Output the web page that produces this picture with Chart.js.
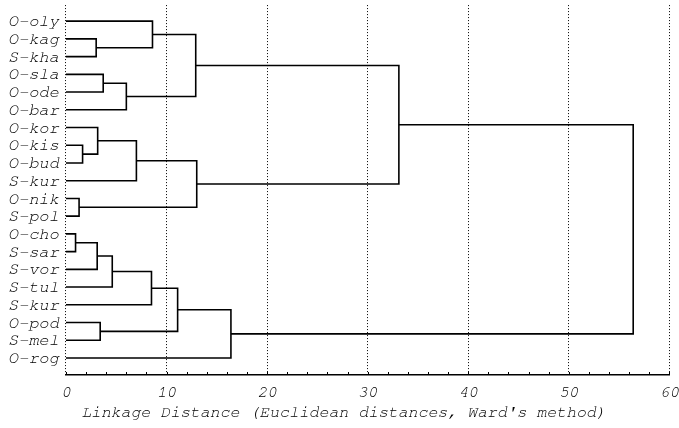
<!DOCTYPE html>
<html>
<head>
<meta charset="utf-8">
<script src="https://cdn.jsdelivr.net/npm/chart.js@4"></script>
<style>
  html, body { margin: 0; padding: 0; background: #fff; }
  #wrap { width: 679px; height: 428px; }
</style>
</head>
<body>
<div id="wrap"><canvas id="chart"></canvas></div>
<script>
// Dendrogram: leaves top to bottom, merges as [left node, right node, linkage distance]
// node ids 0..19 are leaves, 20+ are clusters in the order listed below
const leaves = ['O-oly', 'O-kag', 'S-kha', 'O-sla', 'O-ode', 'O-bar', 'O-kor', 'O-kis', 'O-bud', 'S-kur',
  'O-nik', 'S-pol', 'O-cho', 'S-sar', 'S-vor', 'S-tul', 'S-kur', 'O-pod', 'S-mel', 'O-rog'];
const mergeLeft   = [1, 0, 3, 22, 21, 7, 6, 26, 10, 27, 24, 12, 31, 32, 33, 17, 34, 36, 30];
const mergeRight  = [2, 20, 4, 5, 23, 8, 25, 9, 11, 28, 29, 13, 14, 15, 16, 18, 35, 19, 37];
const mergeHeight = [3.0, 8.6, 3.7, 6.0, 12.9, 1.65, 3.15, 7.0, 1.3, 13.0, 33.1, 0.95, 3.1, 4.6, 8.5, 3.4, 11.1, 16.4, 56.4];
const xTicks = [0, 10, 20, 30, 40, 50, 60];
const axisTitle = "Linkage Distance (Euclidean distances, Ward's method)";

const FONT = "'Nimbus Mono PS', 'FreeMono', 'Liberation Mono', monospace";
const TEXT = '#000';

// node position: leaf = its row, cluster = midpoint of children
const nodeY = leaves.map((_, i) => i);
const nodeH = leaves.map(() => 0);
mergeLeft.forEach((l, k) => {
  nodeY.push((nodeY[l] + nodeY[mergeRight[k]]) / 2);
  nodeH.push(mergeHeight[k]);
});

const datasets = mergeLeft.map((l, k) => {
  const r = mergeRight[k], h = mergeHeight[k];
  return {
    data: [
      { x: nodeH[l], y: nodeY[l] },
      { x: h, y: nodeY[l] },
      { x: h, y: nodeY[r] },
      { x: nodeH[r], y: nodeY[r] },
    ],
    showLine: true, borderColor: '#000', borderWidth: 1.6,
    pointRadius: 0, tension: 0, fill: false,
  };
});

// small inward ticks on the x axis every 2 units
const minorTicks = {
  id: 'minorTicks',
  afterDraw(chart) {
    const { ctx, scales: { x }, chartArea } = chart;
    ctx.save();
    ctx.strokeStyle = '#000';
    ctx.lineWidth = 1;
    for (let v = 0; v <= 60; v += 2) {
      const px = Math.round(x.getPixelForValue(v)) + 0.5;
      ctx.beginPath();
      ctx.moveTo(px, chartArea.bottom);
      ctx.lineTo(px, chartArea.bottom - 3);
      ctx.stroke();
    }
    ctx.restore();
  },
};

new Chart(document.getElementById('chart'), {
  type: 'scatter',
  data: { datasets },
  plugins: [minorTicks],
  options: {
    responsive: true,
    maintainAspectRatio: false,
    animation: false,
    layout: { padding: { left: 8, top: 0, right: 0, bottom: 6 } },
    plugins: {
      legend: { display: false },
      tooltip: { enabled: false },
      title: {
        display: true, position: 'bottom', text: axisTitle, color: TEXT,
        font: { family: FONT, size: 16.5, style: 'italic', weight: 'normal' },
        padding: { top: 0, bottom: 0 },
      },
    },
    scales: {
      x: {
        type: 'linear', min: 0, max: 60,
        afterBuildTicks: s => { s.ticks = xTicks.map(v => ({ value: v })); },
        ticks: { color: TEXT, padding: 0, maxRotation: 0, font: { family: FONT, size: 16, style: 'italic' } },
        grid: { color: '#000', lineWidth: 1, drawTicks: true, tickLength: 8, tickColor: 'transparent' },
        border: { display: true, color: '#000', width: 1.5, dash: [1, 2] },
      },
      y: {
        type: 'linear', reverse: true, min: -0.905, max: 19.96,
        afterBuildTicks: s => { s.ticks = leaves.map((_, i) => ({ value: i })); },
        ticks: {
          color: TEXT, padding: 0, autoSkip: false,
          font: { family: FONT, size: 17, style: 'italic', lineHeight: 0.6 },
          callback: v => leaves[v],
        },
        grid: { display: false, drawTicks: true, tickLength: 7, tickColor: 'transparent' },
        border: { display: false },
      },
    },
  },
});
</script>
</body>
</html>
